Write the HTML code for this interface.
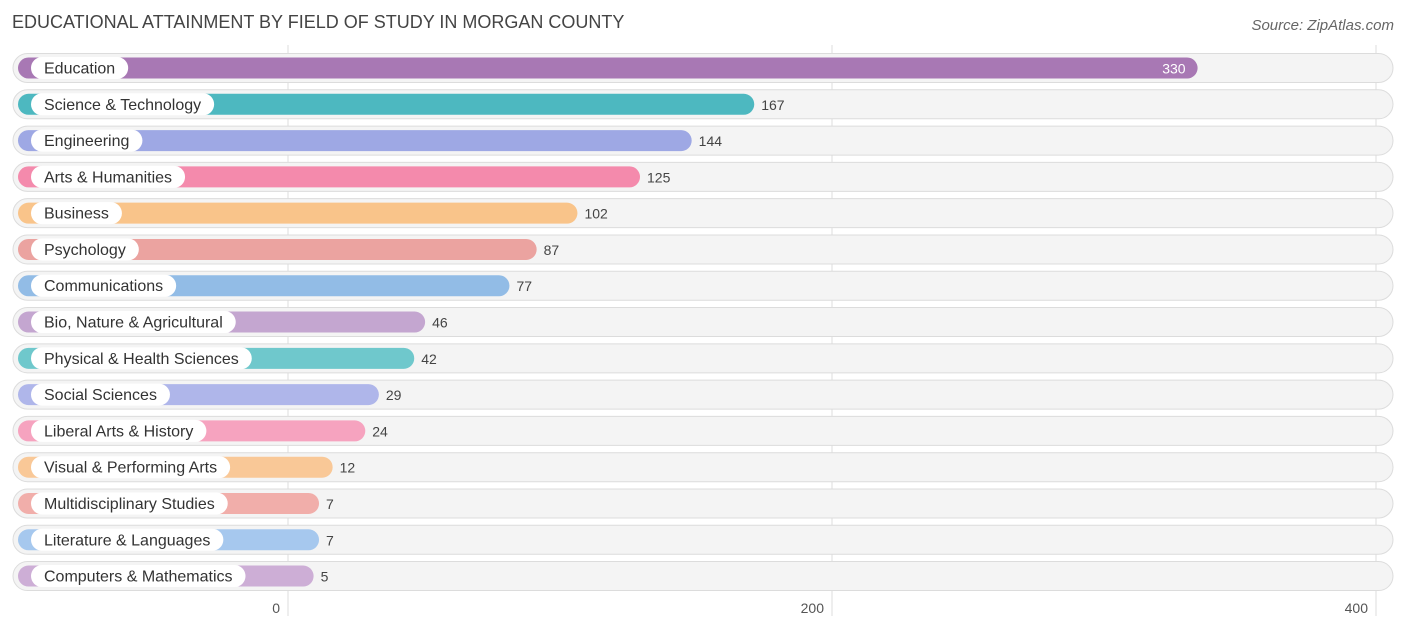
<!DOCTYPE html>
<html><head><meta charset="utf-8"><style>
body{margin:0;background:#fff;font-family:"Liberation Sans",sans-serif;}
#c{position:relative;width:1406px;height:631px;overflow:hidden;}
</style></head><body>
<div id="c">
<svg id="s" width="1406" height="631" xmlns="http://www.w3.org/2000/svg">
<text x="12" y="28" font-size="18" fill="#444" font-family="Liberation Sans">EDUCATIONAL ATTAINMENT BY FIELD OF STUDY IN MORGAN COUNTY</text>
<text x="1394" y="30" font-size="15" fill="#666" font-style="italic" text-anchor="end" font-family="Liberation Sans">Source: ZipAtlas.com</text>
<g id="grid"></g><g id="rows"></g>
</svg>
</div>
<script>
const categories=["Education","Science & Technology","Engineering","Arts & Humanities","Business","Psychology","Communications","Bio, Nature & Agricultural","Physical & Health Sciences","Social Sciences","Liberal Arts & History","Visual & Performing Arts","Multidisciplinary Studies","Literature & Languages","Computers & Mathematics"];
const values=[330,167,144,125,102,87,77,46,42,29,24,12,7,7,5];
const colors=["#a878b4","#4db8c0","#9ea8e4","#f48aac","#f9c48a","#eba3a0","#92bce6","#c4a6d0","#6fc8cc","#afb6ea","#f6a3bf","#f9c897","#f1aeaa","#a6c8ee","#cdaed6"];
const ticks=[0,200,400];
const NS="http://www.w3.org/2000/svg";
const x=v=>288+v*2.72;
const rowY=i=>68+i*36.29;
function mk(t,a){const e=document.createElementNS(NS,t);for(const k in a)e.setAttribute(k,a[k]);return e;}
const grid=document.getElementById('grid'),rows=document.getElementById('rows');
ticks.forEach(t=>{
 const l=mk('line',{x1:x(t),x2:x(t),y1:45,y2:616,stroke:'#ddd','stroke-width':1});
 
 
 grid.appendChild(l);
 const tx=mk('text',{x:x(t)-8,y:613,'font-size':14,fill:'#555','text-anchor':'end'});
 tx.textContent=t;
 
 
 grid.appendChild(tx);
});
categories.forEach((c,i)=>{
 const y=rowY(i);
 const g=mk('g',{});
 
 
 const bg=mk('rect',{x:13,y:y-14.5,width:1380,height:29,rx:14.5,fill:'#f4f4f4',stroke:'#dcdcdc','stroke-width':1});
 
 
 g.appendChild(bg);
 const end=x(values[i])+12;
 const b=mk('rect',{x:18,y:y-10.5,width:end-18,height:21,rx:10.5,fill:colors[i]});
 
 
 g.appendChild(b);
 const lt=mk('text',{x:44,y:y+5.5,'font-size':16,fill:'#333'});
 lt.textContent=c;
 g.appendChild(lt);
 rows.appendChild(g);
 const w=lt.getComputedTextLength();
 const pill=mk('rect',{x:31,y:y-11,width:w+26,height:22,rx:11,fill:'#fff'});
 
 
 g.insertBefore(pill,lt);
 
 
 const inside=values[i]>300;
 const vt=mk('text',{x:inside?end-12:end+7,y:y+5.5,'font-size':14,fill:inside?'#fff':'#444','text-anchor':inside?'end':'start'});
 vt.textContent=values[i];
 
 
 g.appendChild(vt);
});
</script>
</body></html>
